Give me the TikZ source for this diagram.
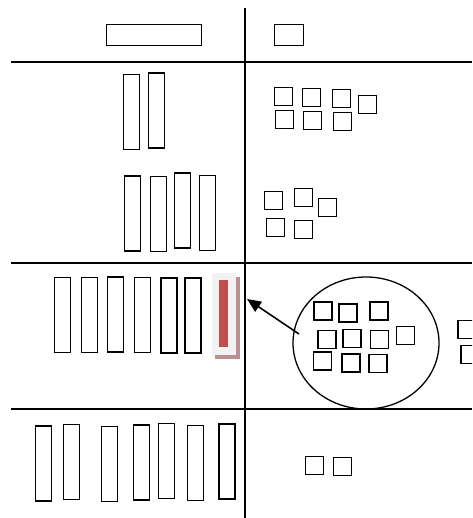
\documentclass[tikz,border=0pt]{standalone}
\usepackage{tikz}
\usetikzlibrary{arrows.meta,shapes.geometric}
\definecolor{Brick}{HTML}{C0504D}
\definecolor{Mist}{HTML}{F2F2F2}
\definecolor{Rose}{HTML}{B99191}
\tikzset{rod/.style={draw,line width=1.7pt,inner sep=0pt,minimum width=16pt,minimum height=75pt},unit/.style={draw,line width=1.7pt,inner sep=0pt,minimum size=18pt},flat/.style={draw,line width=1.7pt,inner sep=0pt,minimum width=95pt,minimum height=21pt},rule/.style={line width=1.8pt},group/.style={ellipse,draw,line width=1.3pt,inner sep=0pt,minimum width=146pt,minimum height=132pt},flow/.style={-{Triangle[length=14pt,width=12pt]},line width=1.6pt}}

\begin{document}
\begin{tikzpicture}[x=1pt,y=-1pt]
      \useasboundingbox (0,0) rectangle (472,518);
      \clip (0,0) rectangle (472,518);
      % place-value grid
      \draw[rule](245,8)--(245,518);
      \foreach \y in {62,263,409} \draw[rule](11,\y)--(472,\y);
      % headings
      \node[flat](hund) at (154,35) {};
      \node[unit,minimum width=29pt,minimum height=21pt](one) at (289,35) {};
      % first number
      \foreach \x/\y [count=\i] in {131.5/112,156.5/110.5} \node[rod](a\i) at (\x,\y) {};
      \foreach \x/\y [count=\i] in {283.5/96.5,311.5/97.5,341.5/98.5,367.5/104.5,284.5/119.5,312.5/120.5,342.5/121.5} \node[unit](au\i) at (\x,\y) {};
      % second number
      \foreach \x/\y [count=\i] in {132.5/213.5,158.5/214,182.5/210.5,207.5/213} \node[rod](b\i) at (\x,\y) {};
      \foreach \x/\y [count=\i] in {273.5/200.5,303.5/197.5,327.5/207.5,275.5/227.5,303.5/229.5} \node[unit](bu\i) at (\x,\y) {};
      % regrouping
      \foreach \x/\y [count=\i] in {62.5/315,89.5/315,115.5/314.5,142.5/315,169/315.5,193/315.5} \node[rod](c\i) at (\x,\y) {};
      \node[fill=Rose,inner sep=0pt,minimum width=25pt,minimum height=82pt](shade) at (227,318) {};
      \node[fill=Mist,inner sep=0pt,minimum width=24pt,minimum height=82pt](new) at (224,314) {};
      \node[fill=Brick,inner sep=0pt,minimum width=9pt,minimum height=67pt](ten) at (223.5,313.5) {};
      \node[group](grp) at (366,343) {};
      \foreach \x/\y [count=\i] in {323/311,348/313,379/311,327/339.5,352/338.5,379.5/339.5,405.5/335.5,322.5/361,351/363,378/363.5} \node[unit](cu\i) at (\x,\y) {};
      \foreach \x/\y [count=\i] in {467/329.5,470/354.5} \node[unit](cr\i) at (\x,\y) {};
      \coordinate (tail) at (299,334);
      \coordinate (tip) at (247,299);
      \draw[flow](tail)--(tip);
      % result
      \foreach \x/\y [count=\i] in {43.5/463.5,71.5/462,109.5/464,141.5/462.5,166.5/461,195.5/463,227/461.5} \node[rod](d\i) at (\x,\y) {};
      \foreach \x/\y [count=\i] in {314.5/465.5,342.5/466.5} \node[unit](du\i) at (\x,\y) {};
    \end{tikzpicture}
\end{document}
